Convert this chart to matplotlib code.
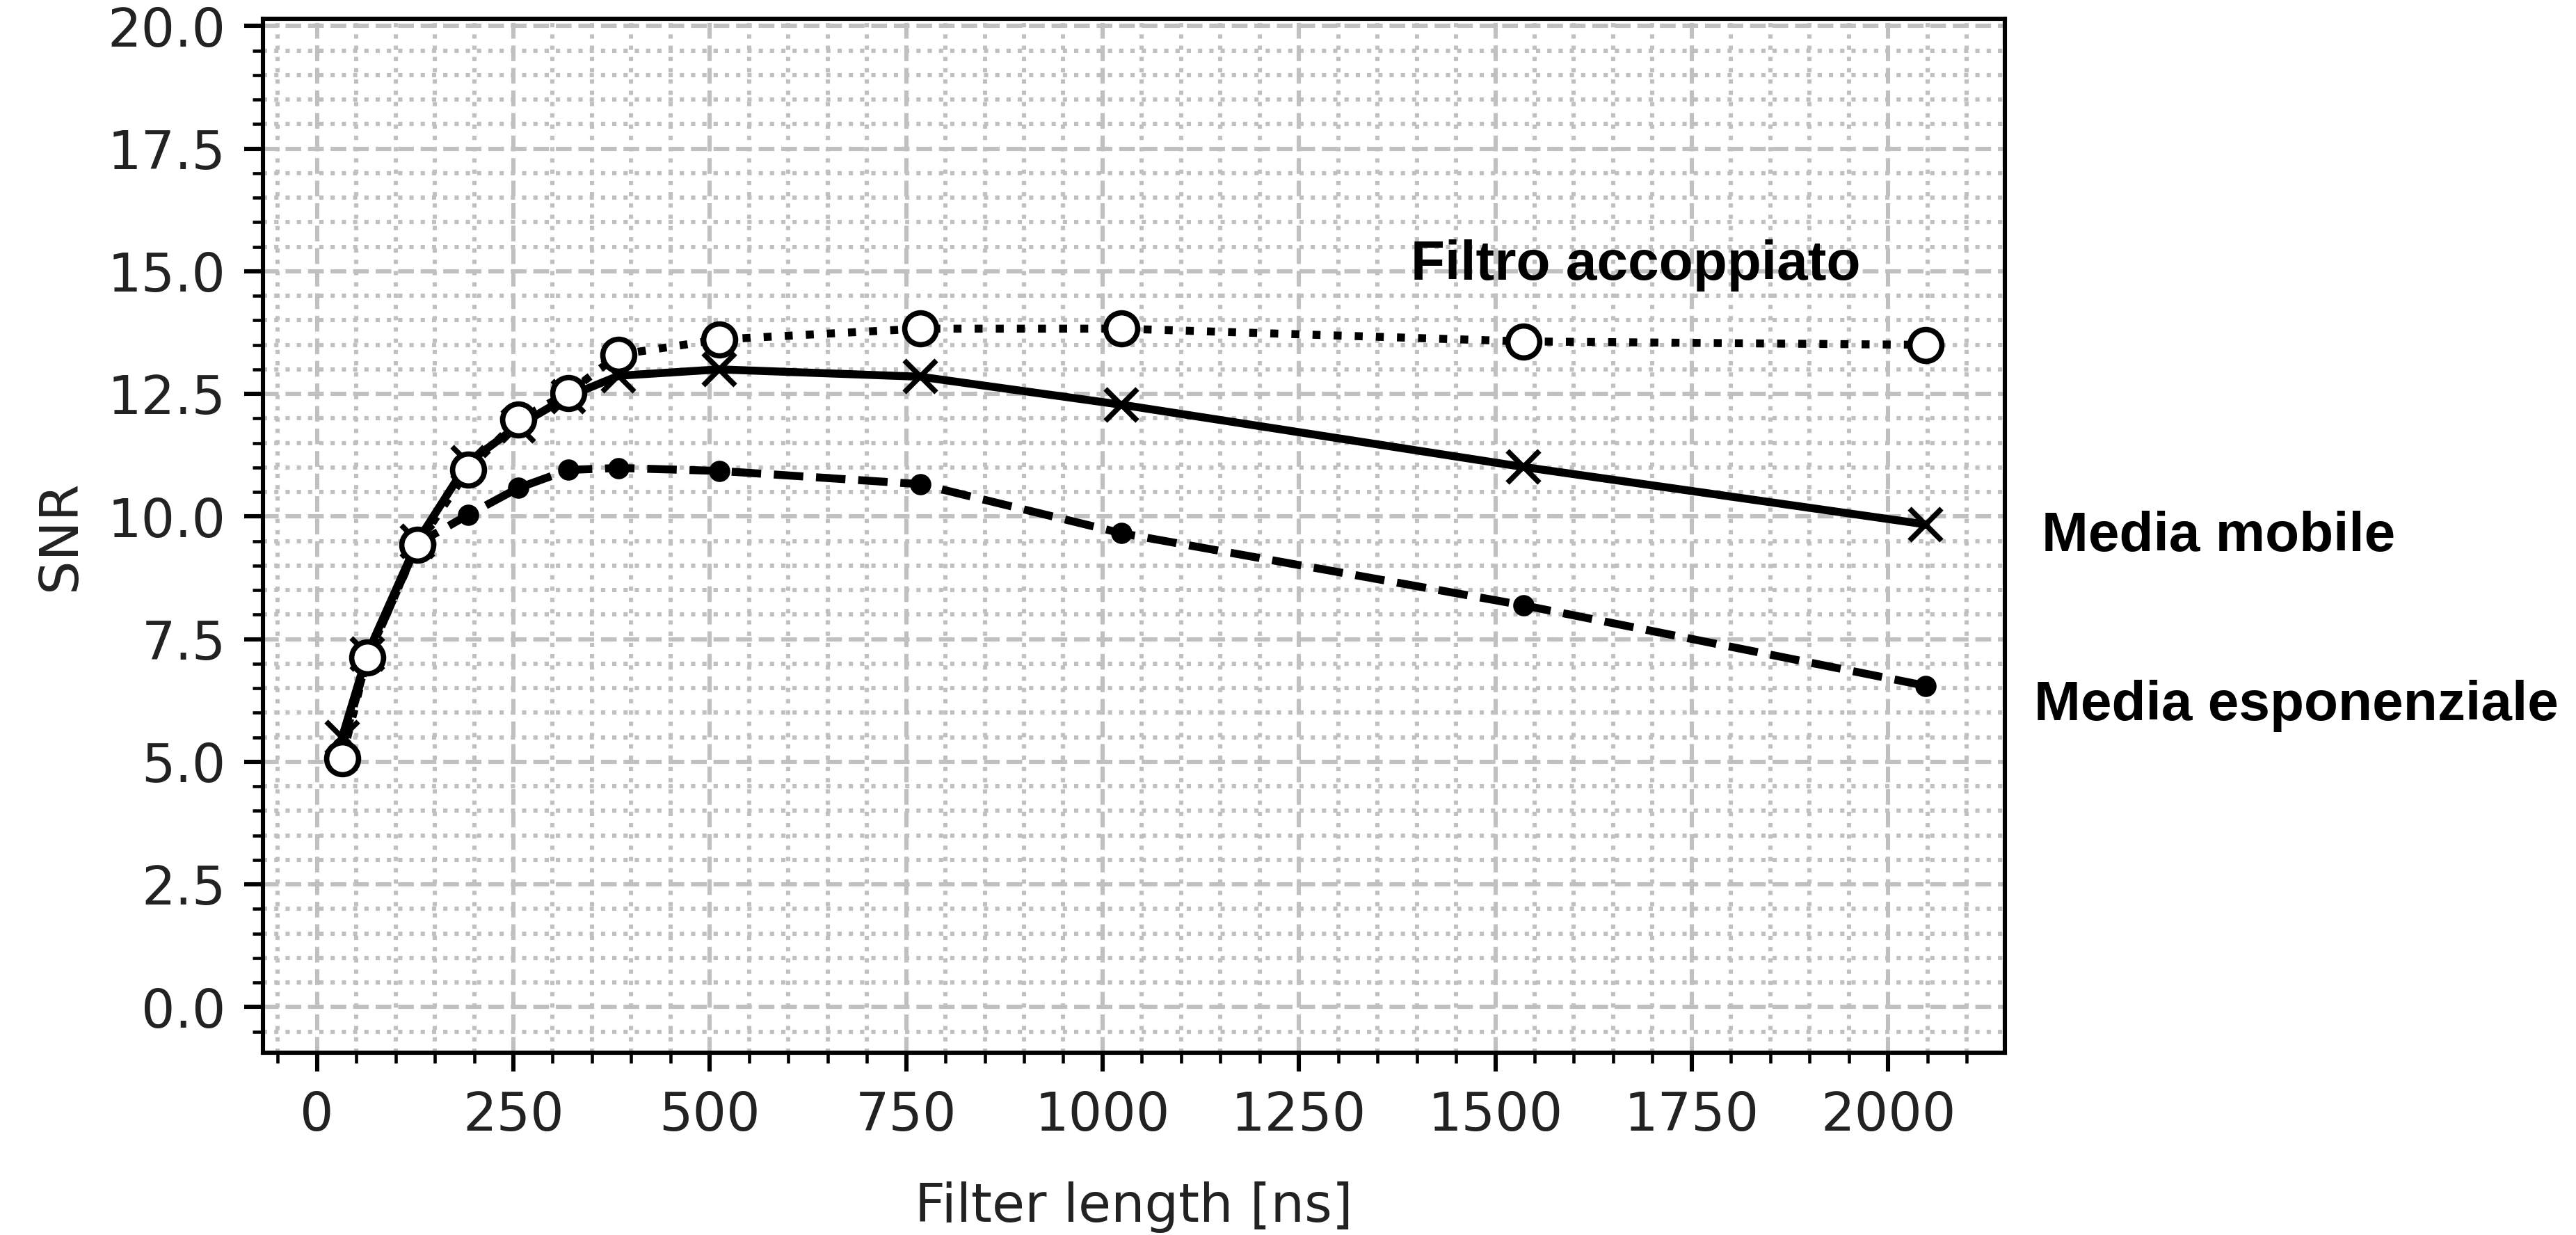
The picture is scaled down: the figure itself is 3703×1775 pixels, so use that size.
import matplotlib
matplotlib.use("Agg")
import matplotlib.pyplot as plt
from matplotlib.ticker import MultipleLocator

# filter lengths [ns] and SNR for the three filters
filter_len_ns = [32, 64, 128, 192, 256, 320, 384, 512, 768, 1024, 1536, 2048]
snr_filtro = [5.07, 7.13, 9.42, 10.95, 11.97, 12.52, 13.30, 13.61, 13.83, 13.83, 13.57, 13.50]
snr_mobile = [5.5, 7.2, 9.5, 11.1, 11.85, 12.45, 12.87, 13.0, 12.85, 12.28, 11.01, 9.84]
snr_esp = [5.3, 7.1, 9.45, 10.03, 10.58, 10.95, 10.99, 10.93, 10.66, 9.66, 8.19, 6.55]

labels = ["Filtro accoppiato", "Media mobile", "Media esponenziale"]

DPI = 550
fig = plt.figure(figsize=(3703.2 / DPI, 1775.2 / DPI), dpi=DPI)
ax = fig.add_axes([0.10208, 0.14761, 0.67621, 0.83718])

ax.plot(filter_len_ns, snr_esp, "--", marker=".", color="black")
ax.plot(filter_len_ns, snr_mobile, "-", marker="x", color="black")
ax.plot(filter_len_ns, snr_filtro, ":", marker="o", color="black", mfc="white", mec="black")

ax.set_ylim(-0.93, 20.15)
ax.xaxis.set_major_locator(MultipleLocator(250))
ax.xaxis.set_minor_locator(MultipleLocator(50))
ax.yaxis.set_major_locator(MultipleLocator(2.5))
ax.yaxis.set_minor_locator(MultipleLocator(0.5))
ax.grid(which="major", linestyle="--", color="#c0c0c0", linewidth=0.8)
ax.grid(which="minor", linestyle=":", color="#c0c0c0", linewidth=0.8)
ax.set_axisbelow(True)
ax.tick_params(labelcolor="#222222")

ax.set_xlabel("Filter length [ns]", labelpad=7.5, color="#222222")
ax.set_ylabel("SNR", color="#222222")

lab_font = dict(family="Liberation Sans", weight="bold", size=10.5, va="baseline")
fig.text(0.5477, 0.7735, labels[0], **lab_font)
fig.text(0.7926, 0.5538, labels[1], **lab_font)
fig.text(0.7896, 0.4169, labels[2], **lab_font)

fig.savefig("out.png", dpi=DPI)
